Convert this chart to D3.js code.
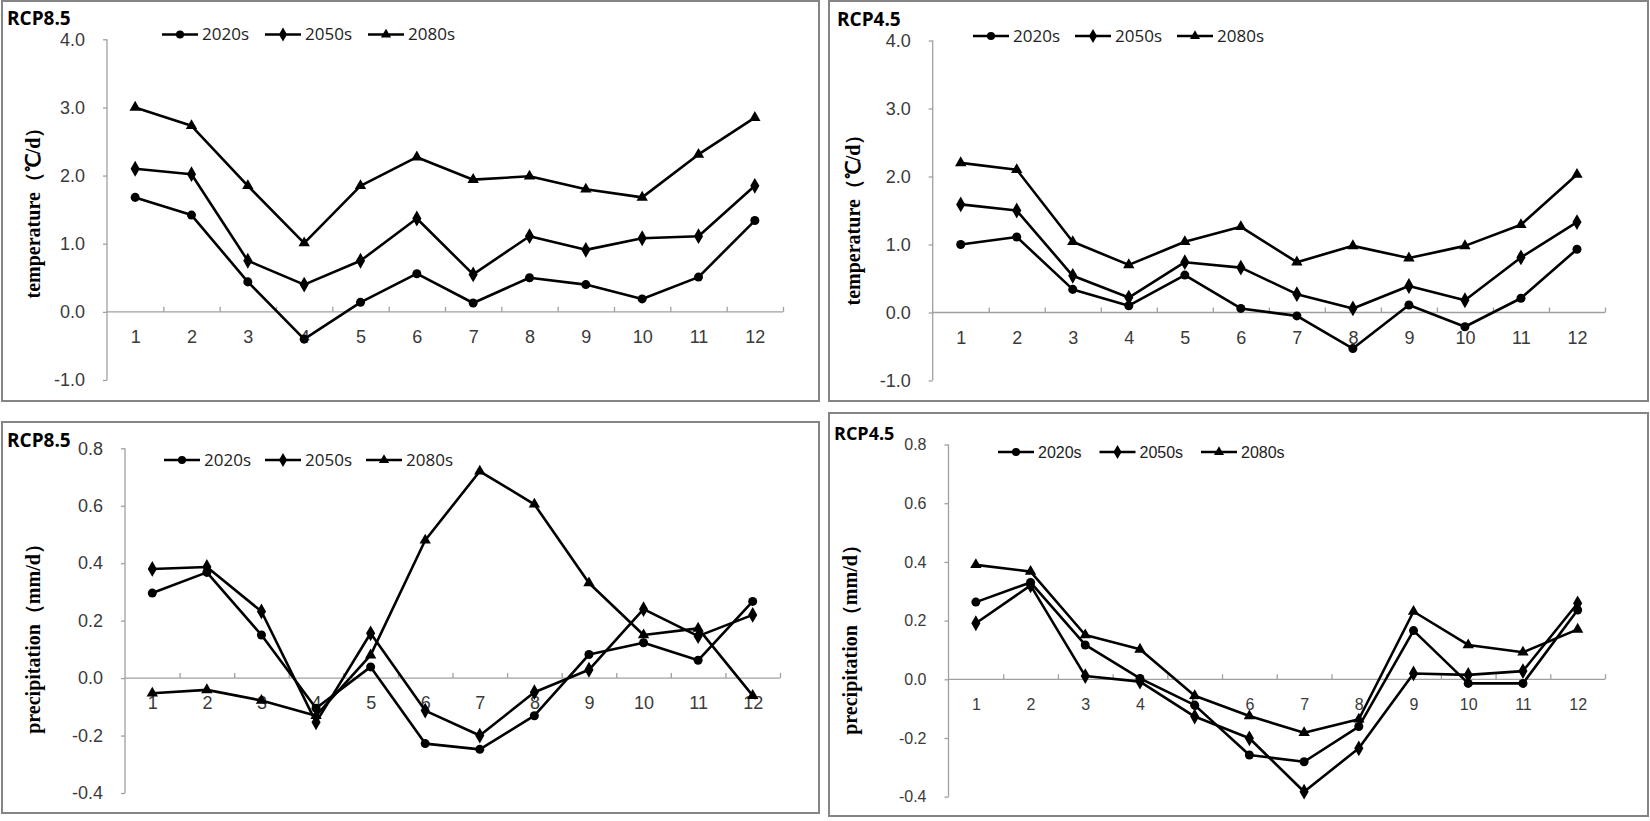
<!DOCTYPE html>
<html>
<head>
<meta charset="utf-8">
<script src="https://cdn.jsdelivr.net/npm/d3@7"></script>
<style>
body { margin:0; background:#fff; }
svg { display:block; }
.tick text { font-family:"Liberation Sans Narrow","Liberation Sans",sans-serif; fill:#3a3a3a; }
</style>
</head>
<body>
<div id="chart"></div>
<script>
var months = [1,2,3,4,5,6,7,8,9,10,11,12];
var seriesNames = ["2020s","2050s","2080s"];

// temperature, RCP8.5
var t85_2020 = [1.68, 1.42, 0.44, -0.40, 0.14, 0.56, 0.13, 0.50, 0.40, 0.19, 0.51, 1.34];
var t85_2050 = [2.10, 2.02, 0.75, 0.40, 0.75, 1.37, 0.55, 1.11, 0.91, 1.08, 1.11, 1.85];
var t85_2080 = [3.00, 2.73, 1.85, 1.01, 1.85, 2.27, 1.94, 1.99, 1.80, 1.68, 2.31, 2.85];
// temperature, RCP4.5
var t45_2020 = [1.00, 1.11, 0.34, 0.10, 0.55, 0.06, -0.05, -0.53, 0.11, -0.21, 0.21, 0.93];
var t45_2050 = [1.59, 1.50, 0.54, 0.22, 0.74, 0.66, 0.27, 0.06, 0.39, 0.18, 0.81, 1.33];
var t45_2080 = [2.20, 2.10, 1.04, 0.70, 1.04, 1.26, 0.74, 0.98, 0.80, 0.98, 1.29, 2.03];
// precipitation, RCP8.5
var p85_2020 = [0.296, 0.368, 0.150, -0.105, 0.039, -0.228, -0.248, -0.131, 0.082, 0.123, 0.062, 0.267];
var p85_2050 = [0.380, 0.387, 0.232, -0.154, 0.156, -0.113, -0.200, -0.049, 0.029, 0.240, 0.146, 0.220];
var p85_2080 = [-0.053, -0.041, -0.078, -0.131, 0.080, 0.480, 0.720, 0.605, 0.331, 0.150, 0.173, -0.061];
// precipitation, RCP4.5
var p45_2020 = [0.263, 0.330, 0.117, 0.003, -0.088, -0.258, -0.281, -0.161, 0.166, -0.014, -0.014, 0.236];
var p45_2050 = [0.191, 0.320, 0.011, -0.008, -0.127, -0.201, -0.383, -0.235, 0.020, 0.015, 0.028, 0.259];
var p45_2080 = [0.390, 0.367, 0.151, 0.102, -0.056, -0.125, -0.182, -0.136, 0.231, 0.117, 0.092, 0.170];

var tempTicks = [-1, 0, 1, 2, 3, 4];
var precTicks = [-0.4, -0.2, 0, 0.2, 0.4, 0.6, 0.8];

var W = 1650, H = 821;
var svg = d3.select("#chart").append("svg").attr("width", W).attr("height", H);

var symbols = [d3.symbolCircle, d3.symbolDiamond, d3.symbolTriangle];
var symSize = [64, 72, 56];

function panel(p, id) {
	var g = svg.append("g");
	g.append("clipPath").attr("id", "clip" + id).append("rect")
		.attr("x", p.box[0]).attr("y", p.box[1]).attr("width", p.box[2]).attr("height", p.box[3]);
	var c = g.append("g").attr("clip-path", "url(#clip" + id + ")");

	g.append("rect").attr("x", p.box[0]).attr("y", p.box[1])
		.attr("width", p.box[2]).attr("height", p.box[3])
		.attr("fill", "none").attr("stroke", "#858585").attr("stroke-width", 2);

	c.append("text").attr("x", p.title[0]).attr("y", p.title[1])
		.attr("font-family", "Open Sans, sans-serif").attr("font-weight", "bold")
		.attr("font-size", p.tfs).text(p.name);

	var y = d3.scaleLinear().domain(d3.extent(p.ticks)).range([p.yb, p.yt]);
	var xb = d3.scaleLinear().domain([0, 12]).range([p.x0, p.x1]);
	var x = d3.scalePoint().domain(months).range([p.x0, p.x1]).padding(0.5);

	// y axis
	var ya = c.append("g").attr("transform", "translate(" + p.x0 + ",0)")
		.call(d3.axisLeft(y).tickValues(p.ticks).tickSize(4).tickPadding(18)
			.tickFormat(d3.format(".1f")));
	ya.selectAll("text").attr("font-size", p.fs).text(function(d) { return d3.format(".1f")(d).replace("−", "-"); });
	ya.selectAll("line, path").attr("stroke", "#a0a0a0").attr("stroke-width", 1.3);
	ya.select("path").attr("d", "M0," + p.yb + "V" + p.yt);

	// x axis at zero, ticks between categories
	var xa = c.append("g").attr("transform", "translate(0," + y(0) + ")")
		.call(d3.axisTop(xb).tickValues(d3.range(1, 13)).tickSize(5).tickFormat(""));
	xa.selectAll("line, path").attr("stroke", "#a0a0a0").attr("stroke-width", 1.3);
	xa.select("path").attr("d", "M" + p.x0 + ",0H" + p.x1);

	var xl = c.append("g").attr("transform", "translate(0," + (y(0) + 25) + ")")
		.call(d3.axisBottom(x).tickSize(0).tickPadding(0));
	xl.select("path").remove();
	xl.selectAll("text").attr("font-size", p.fs).attr("dy", "0.35em");

	// y label
	c.append("text").attr("transform", "translate(" + p.ylab[0] + "," + p.ylab[1] + ") rotate(-90)")
		.attr("text-anchor", "middle").attr("dy", "0.35em").attr("font-family", "Liberation Serif, serif")
		.attr("font-weight", "bold").attr("font-size", 20).text(p.label);

	var line = d3.line().x(function(d, i) { return x(months[i]); }).y(function(d) { return y(d); });

	p.series.forEach(function(s, k) {
		c.append("path").datum(s).attr("d", line)
			.attr("fill", "none").attr("stroke", "#000").attr("stroke-width", 2.6)
			.attr("stroke-linejoin", "round");
		c.selectAll(null).data(s).enter().append("path")
			.attr("transform", function(d, i) { return "translate(" + x(months[i]) + "," + y(d) + ")"; })
			.attr("d", d3.symbol().type(symbols[k]).size(symSize[k]))
			.attr("fill", "#000");
	});

	// legend
	seriesNames.forEach(function(n, k) {
		var lx = p.leg[0] + k * p.leg[2], ly = p.leg[1];
		c.append("line").attr("x1", lx - 18).attr("x2", lx + 18).attr("y1", ly).attr("y2", ly)
			.attr("stroke", "#000").attr("stroke-width", 2.6);
		c.append("path").attr("transform", "translate(" + lx + "," + ly + ")")
			.attr("d", d3.symbol().type(symbols[k]).size(symSize[k] * 0.8)).attr("fill", "#000");
		c.append("text").attr("x", lx + 22).attr("y", ly).attr("dy", "0.35em")
			.attr("font-family", p.lff).attr("font-size", p.lfs).attr("fill", "#222").text(n);
	});
}

panel({ name:"RCP8.5", box:[2,1,817,400], title:[7,25], tfs:19, x0:107, x1:783, yt:39.3, yb:380,
	ticks:tempTicks, fs:18, ylab:[33,208], label:"temperature（℃/d）",
	leg:[180,34.5,103], lff:"Open Sans, sans-serif", lfs:17, series:[t85_2020, t85_2050, t85_2080] }, 1);

panel({ name:"RCP4.5", box:[829,1,819,400], title:[837,26], tfs:19, x0:932.7, x1:1605, yt:40.5, yb:380.5,
	ticks:tempTicks, fs:18, ylab:[853,215], label:"temperature（℃/d）",
	leg:[991,36,102], lff:"Open Sans, sans-serif", lfs:17, series:[t45_2020, t45_2050, t45_2080] }, 2);

panel({ name:"RCP8.5", box:[2,422,817,391], title:[7,446.7], tfs:19, x0:125, x1:780, yt:448.3, yb:793,
	ticks:precTicks, fs:18, ylab:[33,634], label:"precipitation（mm/d）",
	leg:[182,460,101], lff:"Open Sans, sans-serif", lfs:17, series:[p85_2020, p85_2050, p85_2080] }, 3);

panel({ name:"RCP4.5", box:[829,413,819,403], title:[834,440], tfs:18, x0:948.5, x1:1605, yt:444.5, yb:796.7,
	ticks:precTicks, fs:16, ylab:[850,635], label:"precipitation（mm/d）",
	leg:[1016,452,101.5], lff:"Liberation Sans Narrow, sans-serif", lfs:16, series:[p45_2020, p45_2050, p45_2080] }, 4);
</script>
</body>
</html>
